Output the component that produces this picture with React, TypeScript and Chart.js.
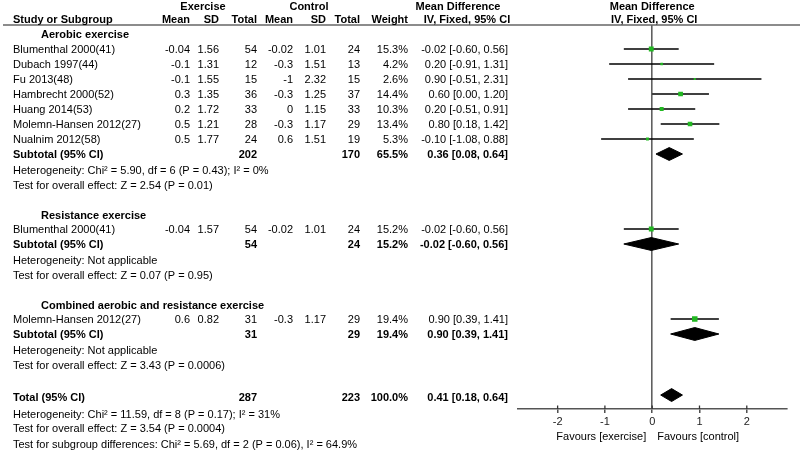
import React, { useEffect, useRef } from 'react';
import { Chart, registerables } from 'chart.js';

Chart.register(...registerables);

// ---------- data ----------
const groupNames = ['Aerobic exercise', 'Resistance exercise', 'Combined aerobic and resistance exercise'];

const studyNames = [
  'Blumenthal 2000(41)', 'Dubach 1997(44)', 'Fu 2013(48)', 'Hambrecht 2000(52)', 'Huang 2014(53)',
  'Molemn-Hansen 2012(27)', 'Nualnim 2012(58)', 'Blumenthal 2000(41)', 'Molemn-Hansen 2012(27)',
];
const studyGroup = [0, 0, 0, 0, 0, 0, 0, 1, 2];
const exMean = [-0.04, -0.1, -0.1, 0.3, 0.2, 0.5, 0.5, -0.04, 0.6];
const exSD = [1.56, 1.31, 1.55, 1.35, 1.72, 1.21, 1.77, 1.57, 0.82];
const exTotal = [54, 12, 15, 36, 33, 28, 24, 54, 31];
const ctMean = [-0.02, -0.3, -1, -0.3, 0, -0.3, 0.6, -0.02, -0.3];
const ctSD = [1.01, 1.51, 2.32, 1.25, 1.15, 1.17, 1.51, 1.01, 1.17];
const ctTotal = [24, 13, 15, 37, 33, 29, 19, 24, 29];
const weight = [15.3, 4.2, 2.6, 14.4, 10.3, 13.4, 5.3, 15.2, 19.4];
const md = [-0.02, 0.2, 0.9, 0.6, 0.2, 0.8, -0.1, -0.02, 0.9];
const mdLo = [-0.6, -0.91, -0.51, 0.0, -0.51, 0.18, -1.08, -0.6, 0.39];
const mdHi = [0.56, 1.31, 2.31, 1.2, 0.91, 1.42, 0.88, 0.56, 1.41];

const subExTotal = [202, 54, 31];
const subCtTotal = [170, 24, 29];
const subWeight = [65.5, 15.2, 19.4];
const subMd = [0.36, -0.02, 0.9];
const subLo = [0.08, -0.6, 0.39];
const subHi = [0.64, 0.56, 1.41];
const subHet = [
  'Heterogeneity: Chi² = 5.90, df = 6 (P = 0.43); I² = 0%',
  'Heterogeneity: Not applicable',
  'Heterogeneity: Not applicable',
];
const subTest = [
  'Test for overall effect: Z = 2.54 (P = 0.01)',
  'Test for overall effect: Z = 0.07 (P = 0.95)',
  'Test for overall effect: Z = 3.43 (P = 0.0006)',
];

const totalEx = 287;
const totalCt = 223;
const totalWeight = 100.0;
const totalMd = 0.41;
const totalLo = 0.18;
const totalHi = 0.64;
const totalHet = 'Heterogeneity: Chi² = 11.59, df = 8 (P = 0.17); I² = 31%';
const totalTest = 'Test for overall effect: Z = 3.54 (P = 0.0004)';
const subgroupTest = 'Test for subgroup differences: Chi² = 5.69, df = 2 (P = 0.06), I² = 64.9%';

const xTicks = [-2, -1, 0, 1, 2];
const favLeft = 'Favours [exercise]';
const favRight = 'Favours [control]';

// ---------- styling ----------
const FONT = "'Liberation Sans', Arial, Helvetica, sans-serif";
const GREEN = '#22b822';
const COL = { name: 13, group: 41, exMean: 190, exSD: 219, exTot: 257, ctMean: 293, ctSD: 326, ctTot: 360, weight: 408, ci: 508 };

const fmtCI = (m: number, l: number, h: number) => `${m.toFixed(2)} [${l.toFixed(2)}, ${h.toFixed(2)}]`;

export default function App() {
  const ref = useRef<HTMLCanvasElement>(null);

  useEffect(() => {
    if (!ref.current) return;

    // ---- row layout (row units) ----
    const groupTitleRow: number[] = [];
    const subRow: number[] = [];
    const hetRow: number[] = [];
    const testRow: number[] = [];
    const studyRow: number[] = new Array(studyNames.length).fill(0);
    let r = 2;
    groupNames.forEach((_, g) => {
      groupTitleRow.push(g === 0 ? r : r + 0.07);
      r += 1;
      studyNames.forEach((_, i) => {
        if (studyGroup[i] === g) {
          studyRow[i] = r;
          r += 1;
        }
      });
      subRow.push(r);
      hetRow.push(r + 1.07);
      testRow.push(r + 2.07);
      r += 4;
    });
    const totalRow = r + 0.07;
    const totalTextRow = totalRow + 0.1;
    const totalHetRow = totalRow + 1.27;
    const totalTestRow = totalRow + 2.2;
    const subgroupTestRow = totalRow + 3.27;
    const DH = 0.43; // diamond half height (rows)

    const diamond = (m: number, l: number, h: number, row: number) => [
      { x: l, y: row }, { x: m, y: row - DH }, { x: h, y: row }, { x: m, y: row + DH }, { x: l, y: row },
    ];

    const datasets: any[] = [];
    // squares
    datasets.push({
      type: 'scatter',
      data: md.map((m, i) => ({ x: m, y: studyRow[i] })),
      pointStyle: 'rect',
      pointRadius: (ctx: any) => (1.25 * Math.sqrt(weight[ctx.dataIndex] || 1)) / 1.414,
      backgroundColor: GREEN,
      borderWidth: 0,
      order: 0,
    });
    // CI lines
    md.forEach((_, i) => {
      datasets.push({
        type: 'line',
        data: [{ x: mdLo[i], y: studyRow[i] }, { x: mdHi[i], y: studyRow[i] }],
        borderColor: '#000',
        borderWidth: 1.3,
        pointRadius: 0,
        fill: false,
        order: 1,
      });
    });
    // subgroup diamonds
    subMd.forEach((m, g) => {
      datasets.push({
        type: 'line',
        data: diamond(m, subLo[g], subHi[g], subRow[g]),
        borderColor: '#000',
        backgroundColor: '#000',
        borderWidth: 1,
        pointRadius: 0,
        fill: 'shape',
        order: 1,
      });
    });
    // total diamond
    datasets.push({
      type: 'line',
      data: diamond(totalMd, totalLo, totalHi, totalRow),
      borderColor: '#000',
      backgroundColor: '#000',
      borderWidth: 1,
      pointRadius: 0,
      fill: 'shape',
      order: 1,
    });

    const tablePlugin = {
      id: 'forestTable',
      afterDraw(chart: any) {
        const { ctx, chartArea, scales } = chart;
        const ys = scales.y;
        const xs = scales.x;
        const Y = (row: number) => ys.getPixelForValue(row) + 1;
        const t = (s: string, x: number, row: number, align: CanvasTextAlign, bold = false) => {
          ctx.font = `${bold ? 'bold ' : ''}11px ${FONT}`;
          ctx.textAlign = align;
          ctx.fillText(s, x, Y(row));
        };
        ctx.save();
        ctx.fillStyle = '#000';
        ctx.textBaseline = 'middle';

        // header line
        ctx.strokeStyle = '#666';
        ctx.lineWidth = 1.5;
        ctx.beginPath();
        ctx.moveTo(3, chartArea.top);
        ctx.lineTo(800, chartArea.top);
        ctx.stroke();

        // tick marks crossing the axis (upper half)
        ctx.strokeStyle = '#333';
        ctx.lineWidth = 1.3;
        xTicks.forEach((v) => {
          const px = xs.getPixelForValue(v);
          ctx.beginPath();
          ctx.moveTo(px, chartArea.bottom - 3.5);
          ctx.lineTo(px, chartArea.bottom);
          ctx.stroke();
        });

        // headers
        const h1 = 0.13, h2 = 1.03;
        t('Exercise', 203, h1, 'center', true);
        t('Control', 309, h1, 'center', true);
        t('Mean Difference', 458, h1, 'center', true);
        t('Mean Difference', xs.getPixelForValue(0), h1, 'center', true);
        t('Study or Subgroup', COL.name, h2, 'left', true);
        t('Mean', COL.exMean, h2, 'right', true);
        t('SD', COL.exSD, h2, 'right', true);
        t('Total', COL.exTot, h2, 'right', true);
        t('Mean', COL.ctMean, h2, 'right', true);
        t('SD', COL.ctSD, h2, 'right', true);
        t('Total', COL.ctTot, h2, 'right', true);
        t('Weight', COL.weight, h2, 'right', true);
        t('IV, Fixed, 95% CI', 467, h2, 'center', true);
        t('IV, Fixed, 95% CI', xs.getPixelForValue(0) + 2, h2, 'center', true);

        // groups
        groupNames.forEach((gName, g) => {
          t(gName, COL.group, groupTitleRow[g], 'left', true);
          studyNames.forEach((name, i) => {
            if (studyGroup[i] !== g) return;
            const row = studyRow[i];
            t(name, COL.name, row, 'left');
            t(String(exMean[i]), COL.exMean, row, 'right');
            t(String(exSD[i]), COL.exSD, row, 'right');
            t(String(exTotal[i]), COL.exTot, row, 'right');
            t(String(ctMean[i]), COL.ctMean, row, 'right');
            t(String(ctSD[i]), COL.ctSD, row, 'right');
            t(String(ctTotal[i]), COL.ctTot, row, 'right');
            t(`${weight[i].toFixed(1)}%`, COL.weight, row, 'right');
            t(fmtCI(md[i], mdLo[i], mdHi[i]), COL.ci, row, 'right');
          });
          t('Subtotal (95% CI)', COL.name, subRow[g], 'left', true);
          t(String(subExTotal[g]), COL.exTot, subRow[g], 'right', true);
          t(String(subCtTotal[g]), COL.ctTot, subRow[g], 'right', true);
          t(`${subWeight[g].toFixed(1)}%`, COL.weight, subRow[g], 'right', true);
          t(fmtCI(subMd[g], subLo[g], subHi[g]), COL.ci, subRow[g], 'right', true);
          t(subHet[g], COL.name, hetRow[g], 'left');
          t(subTest[g], COL.name, testRow[g], 'left');
        });

        // total
        t('Total (95% CI)', COL.name, totalTextRow, 'left', true);
        t(String(totalEx), COL.exTot, totalTextRow, 'right', true);
        t(String(totalCt), COL.ctTot, totalTextRow, 'right', true);
        t(`${totalWeight.toFixed(1)}%`, COL.weight, totalTextRow, 'right', true);
        t(fmtCI(totalMd, totalLo, totalHi), COL.ci, totalTextRow, 'right', true);
        t(totalHet, COL.name, totalHetRow, 'left');
        t(totalTest, COL.name, totalTestRow, 'left');
        t(subgroupTest, COL.name, subgroupTestRow, 'left');

        // favours labels
        ctx.font = `11px ${FONT}`;
        const x0 = xs.getPixelForValue(0);
        const fy = chartArea.bottom + 27.5;
        ctx.textAlign = 'right';
        ctx.fillText(favLeft, x0 - 6, fy);
        ctx.textAlign = 'left';
        ctx.fillText(favRight, x0 + 5, fy);
        ctx.restore();
      },
    };

    const chart = new Chart(ref.current, {
      type: 'scatter',
      data: { datasets },
      options: {
        responsive: false,
        animation: false,
        events: [],
        layout: { padding: { left: 517.7, right: 13.3, top: 25, bottom: 0 } },
        plugins: { legend: { display: false }, tooltip: { enabled: false } },
        scales: {
          x: {
            type: 'linear',
            min: -2.844,
            max: 2.844,
            afterFit: (scale: any) => { scale.height = 41; },
            afterBuildTicks: (scale: any) => { scale.ticks = xTicks.map((v) => ({ value: v })); },
            ticks: {
              includeBounds: false,
              stepSize: 1,
              color: '#222',
              padding: 2.5,
              font: { family: FONT, size: 11 },
              callback: (v: any) => String(v),
            },
            grid: {
              drawOnChartArea: true,
              drawTicks: true,
              tickLength: 4,
              tickWidth: 1.3,
              tickColor: '#333',
              lineWidth: 1.6,
              color: (c: any) => (c.tick && c.tick.value === 0 ? '#606060' : 'rgba(0,0,0,0)'),
            },
            border: { display: true, color: '#555', width: 1.5 },
          },
          y: {
            type: 'linear',
            display: false,
            reverse: true,
            min: 1.4,
            max: 27,
          },
        },
      },
      plugins: [tablePlugin],
    } as any);

    return () => chart.destroy();
  }, []);

  return (
    <div style={{ position: 'fixed', left: 0, top: 0, width: 800, height: 450, background: '#fff' }}>
      <canvas ref={ref} width={800} height={450} style={{ display: 'block' }} />
    </div>
  );
}
